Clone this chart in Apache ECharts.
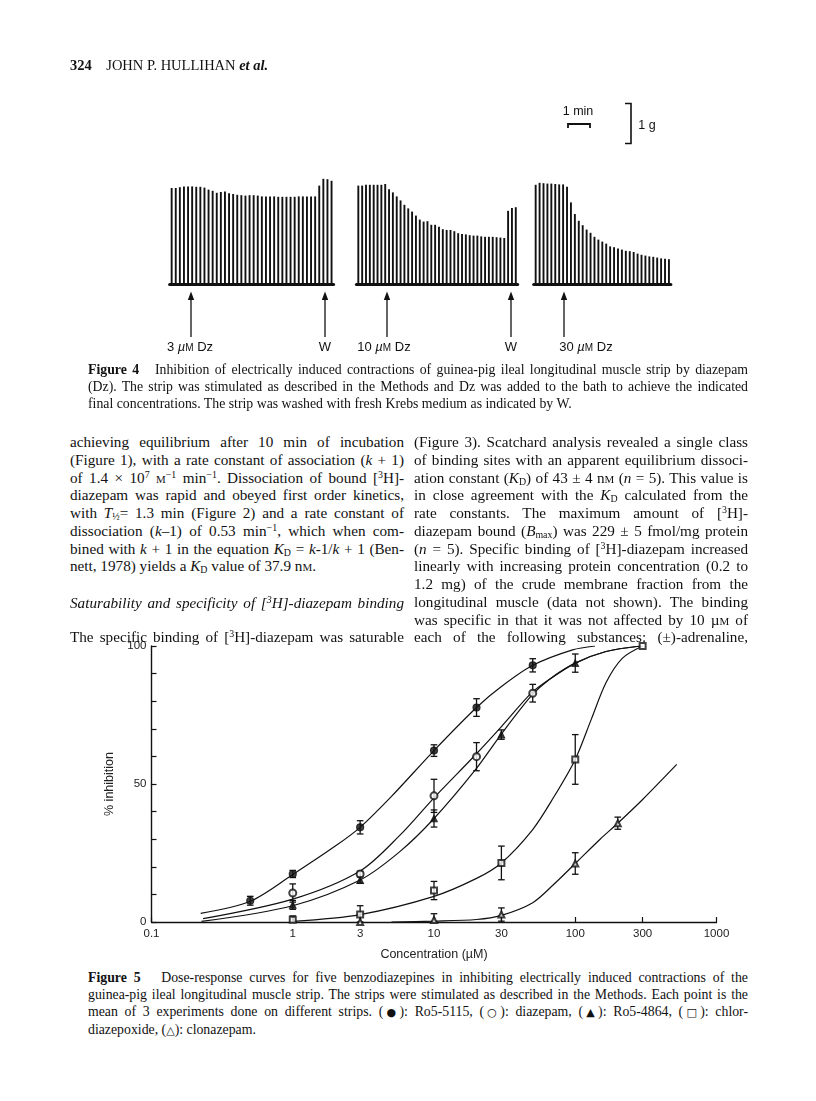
<!DOCTYPE html>
<html><head><meta charset="utf-8">
<script src="https://cdn.jsdelivr.net/npm/echarts/dist/echarts.min.js"></script>
<style>
html,body{margin:0;padding:0;background:#fff;}
#page{position:relative;width:816px;height:1101px;overflow:hidden;color:#111;font-family:"Liberation Serif","Times New Roman",serif;}
.abs{position:absolute;}
.col{position:absolute;width:334px;font-size:15.2px;line-height:17.75px;}
.col div{text-align:justify;text-align-last:justify;height:17.75px;}
.col div.last{text-align-last:left;}
.cap{position:absolute;left:88px;width:660px;font-size:13.8px;line-height:17.2px;}
.cap div{text-align:justify;text-align-last:justify;height:17.2px;}
.cap div.last{text-align-last:left;}
.sc{font-size:0.72em;}
sup{font-size:0.65em;line-height:0;vertical-align:0.5em;}
sub{font-size:0.65em;line-height:0;vertical-align:-0.2em;}
.sym{font-family:"DejaVu Sans",sans-serif;font-size:0.8em;}
.lab{position:absolute;font-family:"Liberation Sans",Arial,sans-serif;font-size:13px;transform:translateX(-50%);white-space:nowrap;line-height:16px;}
</style>
</head>
<body>
<div id="page">
  <div id="fig4" class="abs" style="left:0;top:0;width:816px;height:360px;"></div>
  <div id="fig5" class="abs" style="left:0;top:636px;width:816px;height:330px;"></div>

  <div class="abs" style="left:70px;top:56px;font-size:14.5px;line-height:18px;white-space:nowrap;"><b>324</b>&nbsp;&nbsp;&nbsp; JOHN P. HULLIHAN <b><i>et al.</i></b></div>

  <div class="lab" style="left:190px;top:339px;">3 <i>µ</i><span style="font-size:10px">M</span> Dz</div>
  <div class="lab" style="left:325px;top:339px;">W</div>
  <div class="lab" style="left:384px;top:339px;">10 <i>µ</i><span style="font-size:10px">M</span> Dz</div>
  <div class="lab" style="left:511px;top:339px;">W</div>
  <div class="lab" style="left:586px;top:339px;">30 <i>µ</i><span style="font-size:10px">M</span> Dz</div>
  <div class="lab" style="left:578px;top:103px;font-size:12.5px;">1 min</div>
  <div class="lab" style="left:647px;top:117px;font-size:12.5px;">1 g</div>

  <div class="cap" style="top:361px;">
    <div><b>Figure 4</b>&nbsp;&nbsp; Inhibition of electrically induced contractions of guinea-pig ileal longitudinal muscle strip by diazepam</div>
    <div>(Dz). The strip was stimulated as described in the Methods and Dz was added to the bath to achieve the indicated</div>
    <div class="last">final concentrations. The strip was washed with fresh Krebs medium as indicated by W.</div>
  </div>

  <div class="col" style="left:70px;top:433px;">
    <div>achieving equilibrium after 10 min of incubation</div>
    <div>(Figure 1), with a rate constant of association (<i>k</i> + 1)</div>
    <div>of 1.4 × 10<sup>7</sup> <span class="sc">M</span><sup>−1</sup> min<sup>−1</sup>. Dissociation of bound [<sup>3</sup>H]-</div>
    <div>diazepam was rapid and obeyed first order kinetics,</div>
    <div>with <i>T</i><sub>½</sub>= 1.3 min (Figure 2) and a rate constant of</div>
    <div>dissociation (<i>k</i>–1) of 0.53 min<sup>−1</sup>, which when com-</div>
    <div>bined with <i>k</i> + 1 in the equation <i>K</i><sub>D</sub> = <i>k</i>-1/<i>k</i> + 1 (Ben-</div>
    <div class="last">nett, 1978) yields a <i>K</i><sub>D</sub> value of 37.9 n<span class="sc">M</span>.</div>
  </div>
  <div class="col" style="left:70px;top:594px;">
    <div><i>Saturability and specificity of [<sup>3</sup>H]-diazepam binding</i></div>
  </div>
  <div class="col" style="left:70px;top:628px;">
    <div>The specific binding of [<sup>3</sup>H]-diazepam was saturable</div>
  </div>

  <div class="col" style="left:414px;top:433px;">
    <div>(Figure 3). Scatchard analysis revealed a single class</div>
    <div>of binding sites with an apparent equilibrium dissoci-</div>
    <div>ation constant (<i>K</i><sub>D</sub>) of 43 ± 4 n<span class="sc">M</span> (<i>n</i> = 5). This value is</div>
    <div>in close agreement with the <i>K</i><sub>D</sub> calculated from the</div>
    <div>rate constants. The maximum amount of [<sup>3</sup>H]-</div>
    <div>diazepam bound (<i>B</i><sub>max</sub>) was 229 ± 5 fmol/mg protein</div>
    <div>(<i>n</i> = 5). Specific binding of [<sup>3</sup>H]-diazepam increased</div>
    <div>linearly with increasing protein concentration (0.2 to</div>
    <div>1.2 mg) of the crude membrane fraction from the</div>
    <div>longitudinal muscle (data not shown). The binding</div>
    <div>was specific in that it was not affected by 10 µ<span class="sc">M</span> of</div>
    <div>each of the following substances: (±)-adrenaline,</div>
  </div>

  <div class="cap" style="top:969px;">
    <div><b>Figure 5</b>&nbsp;&nbsp; Dose-response curves for five benzodiazepines in inhibiting electrically induced contractions of the</div>
    <div>guinea-pig ileal longitudinal muscle strip. The strips were stimulated as described in the Methods. Each point is the</div>
    <div>mean of 3 experiments done on different strips. (<span class="sym">●</span>): Ro5-5115, (<span class="sym">○</span>): diazepam, (<span class="sym">▲</span>): Ro5-4864, (<span class="sym">□</span>): chlor-</div>
    <div class="last">diazepoxide, (<span class="sym">△</span>): clonazepam.</div>
  </div>
</div>

<script>
// ---------------- Figure 4 data: contraction heights (g) ----------------
const trace3uM = [2.40,2.40,2.42,2.44,2.44,2.44,2.43,2.43,2.41,2.36,2.33,2.28,2.30,2.31,2.27,2.25,2.23,2.22,2.21,2.22,
                  2.22,2.21,2.19,2.19,2.19,2.19,2.18,2.18,2.18,2.18,2.18,2.19,2.19,2.19,2.19,2.19,2.46,2.63,2.62,2.58];
const trace10uM = [2.46,2.46,2.48,2.48,2.48,2.48,2.48,2.50,2.37,2.29,2.19,2.09,1.98,1.89,1.81,1.71,1.61,1.56,1.57,1.48,
                   1.48,1.43,1.37,1.35,1.35,1.32,1.27,1.25,1.24,1.22,1.21,1.21,1.19,1.18,1.18,1.18,1.17,1.16,1.15,1.83,1.90,1.92];
const trace30uM = [2.48,2.53,2.52,2.51,2.51,2.50,2.49,2.49,2.43,2.04,1.75,1.58,1.47,1.36,1.28,1.18,1.11,1.06,1.01,0.94,
                   0.92,0.89,0.86,0.83,0.82,0.80,0.76,0.73,0.71,0.69,0.68,0.66,0.64,0.63,0.62];

// ---------------- Figure 5 data ----------------
const concTicks = [0.1, 1, 3, 10, 30, 100, 300, 1000];
const yTickValues = [0, 10, 20, 30, 40, 50, 60, 70, 80, 90, 100];
const yLabelValues = [0, 50, 100];

// Ro5-5115 (filled circles)
const ro5115Conc = [0.5, 1, 3, 10, 20, 50];
const ro5115Mean = [7.7, 17.4, 34.3, 62.1, 77.7, 93.0];
const ro5115Sem  = [1.6, 1.3, 2.4, 2.1, 3.2, 2.4];
const ro5115CurveConc = [0.223, 0.5, 1, 2, 3, 5, 10, 20, 30, 50, 95.7, 138];
const ro5115CurveVal  = [3.1, 7.5, 17.2, 27.5, 34.3, 45.5, 62.1, 77.7, 85.3, 93.0, 98.6, 100];

// diazepam (open circles)
const diazConc = [1, 3, 10, 20, 50];
const diazMean = [10.5, 17.4, 45.7, 59.9, 82.9];
const diazSem  = [3.3, 1.0, 6.0, 5.1, 3.2];
const diazCurveConc = [0.232, 1, 3, 5.7, 10, 19.6, 29.8, 48.8, 65.5, 100, 165, 290];
const diazCurveVal  = [1.2, 8.3, 18.5, 31.3, 45.0, 60.5, 70.6, 82.9, 87.9, 93.8, 98.0, 100];

// Ro5-4864 (filled triangles)
const ro4864Conc = [1, 3, 10, 30, 100];
const ro4864Mean = [6.2, 15.2, 37.5, 67.9, 93.8];
const ro4864Sem  = [1.6, 1.2, 3.1, 1.7, 3.3];
const ro4864CurveConc = [0.226, 1, 3, 5.7, 10, 19.6, 29.8, 48.8, 65.5, 100, 165, 290];
const ro4864CurveVal  = [0.2, 5.9, 15.2, 25.4, 37.5, 55.1, 67.9, 81.9, 87.9, 93.8, 98.0, 100];

// chlordiazepoxide (open squares)
const chlorConc = [1, 3, 10, 30, 100, 300];
const chlorMean = [0.8, 2.7, 11.4, 21.4, 58.9, 100];
const chlorSem  = [1.4, 3.2, 3.3, 6.1, 9.0, 0];
const chlorCurveConc = [1, 3, 10, 20, 30, 50, 70, 100, 130, 165, 216, 300];
const chlorCurveVal  = [0.2, 2.7, 9.3, 15.8, 21.4, 33.5, 45.0, 58.9, 73.5, 86.7, 95.6, 100];

// clonazepam (open triangles)
const clonConc = [3, 10, 30, 100, 200];
const clonMean = [0, 0.7, 2.7, 21.2, 35.8];
const clonSem  = [0, 2.3, 2.4, 3.9, 2.2];
const clonCurveConc = [5, 10, 20, 30, 50, 70, 100, 150, 200, 300, 523];
const clonCurveVal  = [0, 0.3, 0.9, 2.4, 7.0, 13.5, 21.2, 30.0, 35.8, 44.4, 57.1];

const INK = '#111';

// ---------------- Figure 4 chart ----------------
(function () {
  const chart = echarts.init(document.getElementById('fig4'), null, {renderer: 'canvas'});
  const traces = [trace3uM, trace10uM, trace30uM];
  const grids = [
    {left: 169.6, top: 164, width: 164, height: 120},
    {left: 356.4, top: 164, width: 161.3, height: 120},
    {left: 533.7, top: 164, width: 137.2, height: 120}
  ];
  const arrowsX = [191, 325, 387, 511, 564];
  const graphic = [];
  arrowsX.forEach(x => {
    graphic.push({type: 'line', shape: {x1: x, y1: 337, x2: x, y2: 298}, style: {stroke: INK, lineWidth: 1.3}});
    graphic.push({type: 'polygon', shape: {points: [[x - 3.2, 300], [x + 3.2, 300], [x, 291.5]]}, style: {fill: INK}});
  });
  graphic.push({type: 'polyline', shape: {points: [[568, 128], [568, 124], [590, 124], [590, 128]]}, style: {stroke: INK, lineWidth: 1.8, fill: null}});
  graphic.push({type: 'polyline', shape: {points: [[625, 103.5], [631, 103.5], [631, 143.5], [625, 143.5]]}, style: {stroke: INK, lineWidth: 1.6, fill: null}});

  chart.setOption({
    animation: false,
    backgroundColor: 'transparent',
    grid: grids,
    xAxis: traces.map((t, i) => ({
      type: 'category', gridIndex: i, data: t.map((_, j) => j),
      axisLine: {lineStyle: {color: INK, width: 3}}, axisTick: {show: false}, axisLabel: {show: false}
    })),
    yAxis: traces.map((t, i) => ({type: 'value', gridIndex: i, min: 0, max: 3, show: false, splitLine: {show: false}})),
    series: traces.map((t, i) => ({
      type: 'bar', xAxisIndex: i, yAxisIndex: i, data: t, barWidth: 1.9,
      itemStyle: {color: INK}, silent: true
    })),
    graphic: graphic
  });
})();

// ---------------- Figure 5 chart ----------------
(function () {
  const chart = echarts.init(document.getElementById('fig5'), null, {renderer: 'canvas'});
  const lg = c => Math.log10(c);
  const pts = (conc, vals) => conc.map((c, i) => [lg(c), vals[i]]);
  const errs = (conc, mean, sem) => conc.map((c, i) => [lg(c), Math.max(0, mean[i] - sem[i]), mean[i] + sem[i], sem[i]]).filter(d => d[3] > 0);
  const xTickVals = concTicks.map(c => Math.max(-1, Math.min(3, lg(c))));

  function errRender(params, api) {
    const x = api.value(0), lo = api.value(1), hi = api.value(2);
    const p1 = api.coord([x, lo]), p2 = api.coord([x, hi]);
    const w = 3.3;
    const st = {stroke: INK, lineWidth: 1.3};
    return {type: 'group', children: [
      {type: 'line', shape: {x1: p1[0], y1: p1[1], x2: p2[0], y2: p2[1]}, style: st},
      {type: 'line', shape: {x1: p1[0] - w, y1: p1[1], x2: p1[0] + w, y2: p1[1]}, style: st},
      {type: 'line', shape: {x1: p2[0] - w, y1: p2[1], x2: p2[0] + w, y2: p2[1]}, style: st}
    ]};
  }

  const sets = [
    {name: 'Ro5-5115', conc: ro5115Conc, mean: ro5115Mean, sem: ro5115Sem, cc: ro5115CurveConc, cv: ro5115CurveVal, symbol: 'circle', size: 7},
    {name: 'diazepam', conc: diazConc, mean: diazMean, sem: diazSem, cc: diazCurveConc, cv: diazCurveVal, symbol: 'emptyCircle', size: 7},
    {name: 'Ro5-4864', conc: ro4864Conc, mean: ro4864Mean, sem: ro4864Sem, cc: ro4864CurveConc, cv: ro4864CurveVal, symbol: 'triangle', size: 6.5},
    {name: 'chlordiazepoxide', conc: chlorConc, mean: chlorMean, sem: chlorSem, cc: chlorCurveConc, cv: chlorCurveVal, symbol: 'emptyRect', size: 6},
    {name: 'clonazepam', conc: clonConc, mean: clonMean, sem: clonSem, cc: clonCurveConc, cv: clonCurveVal, symbol: 'emptyTriangle', size: 6}
  ];

  const series = [];
  sets.forEach(s => {
    series.push({type: 'line', data: pts(s.cc, s.cv), smooth: 0.3, symbol: 'none', silent: true, z: 2,
      lineStyle: {color: INK, width: 1.2}});
  });
  sets.forEach(s => {
    series.push({type: 'custom', data: errs(s.conc, s.mean, s.sem), renderItem: errRender, silent: true, z: 3,
      encode: {x: 0, y: [1, 2]}});
  });
  sets.forEach(s => {
    series.push({type: 'scatter', name: s.name, data: pts(s.conc, s.mean), symbol: s.symbol, symbolSize: s.size, z: 4,
      itemStyle: {color: INK, borderColor: INK, borderWidth: 1.2}, silent: true});
  });

  const axisFont = {fontFamily: '"Liberation Sans", Arial, sans-serif', color: '#222'};
  chart.setOption({
    animation: false,
    backgroundColor: 'transparent',
    grid: {left: 151.5, right: 99.5, top: 10, height: 280},
    xAxis: {
      type: 'value', min: -1, max: 3,
      name: 'Concentration (µM)', nameLocation: 'middle', nameGap: 26,
      nameTextStyle: Object.assign({fontSize: 12.5}, axisFont),
      axisLine: {onZero: false, lineStyle: {color: INK, width: 1.4}},
      axisTick: {inside: true, length: 5, customValues: xTickVals, lineStyle: {color: INK, width: 1.2}},
      axisLabel: Object.assign({fontSize: 11.5, margin: 6, customValues: xTickVals,
        formatter: v => {
          let best = concTicks[0];
          concTicks.forEach(c => { if (Math.abs(lg(c) - v) < Math.abs(lg(best) - v)) best = c; });
          return String(best);
        }}, axisFont),
      splitLine: {show: false}
    },
    yAxis: {
      type: 'value', min: 0, max: 100,
      name: '% inhibition', nameLocation: 'middle', nameGap: 26, nameRotate: 90,
      nameTextStyle: Object.assign({fontSize: 12.5}, axisFont),
      axisLine: {show: true, onZero: false, lineStyle: {color: INK, width: 1.4}},
      axisTick: {inside: true, length: 5, customValues: yTickValues, lineStyle: {color: INK, width: 1.2}},
      axisLabel: Object.assign({fontSize: 11.5, margin: 5, customValues: yLabelValues}, axisFont),
      splitLine: {show: false}
    },
    series: series
  });
})();
</script>
</body></html>
